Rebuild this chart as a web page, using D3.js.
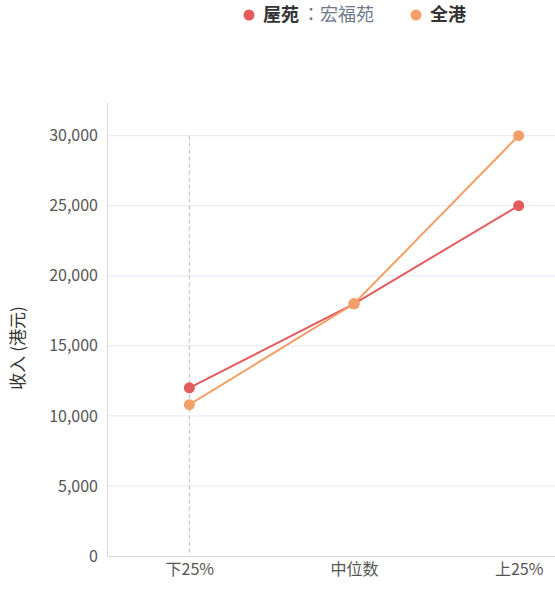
<!DOCTYPE html>
<html><head><meta charset="utf-8">
<script src="https://cdn.jsdelivr.net/npm/d3@7"></script>
<style>body{margin:0;background:#fff;} svg{display:block;font-family:"Noto Sans CJK SC","Noto Sans",sans-serif;}</style>
</head><body>
<svg id="c" width="555" height="596"></svg>
<script>
const categories = ["下25%", "中位数", "上25%"];
const estateValues = [12000, 18000, 25000];
const allHKValues = [10800, 18000, 30000];
const yTicks = [0, 5000, 10000, 15000, 20000, 25000, 30000];
const seriesNames = ["屋苑", "全港"];
const estateName = "宏福苑";

(function () {
const svg = d3.select("#c");
const mLeft = 107, mBottom = 556, mTop = 102, plotRight = 601;
const x = d3.scalePoint().domain(categories).range([mLeft, plotRight]).padding(0.5);
const y = d3.scaleLinear().domain([0, 32400]).range([mBottom, mTop]);

// grid
svg.append("g").selectAll("line").data(yTicks.filter(d => d > 0)).join("line")
  .attr("x1", mLeft).attr("x2", 555).attr("y1", d => y(d)).attr("y2", d => y(d))
  .attr("stroke", "#e8e8f2").attr("stroke-width", 1);

// y axis
const ya = svg.append("g").attr("transform", `translate(${mLeft},0)`)
  .call(d3.axisLeft(y).tickValues(yTicks).tickFormat(d3.format(",")).tickSize(0).tickPadding(9));
ya.select(".domain").attr("stroke", "#d6d6dc");
ya.selectAll("text").attr("font-size", 16).attr("fill", "#555").attr("font-family", "'Noto Sans CJK SC',sans-serif");

// x axis
const xa = svg.append("g").attr("transform", `translate(0,${mBottom})`)
  .call(d3.axisBottom(x).tickSize(0).tickPadding(8));
xa.select(".domain").attr("stroke", "#d6d6dc").attr("d", `M${mLeft},0.5H555`);
xa.selectAll("text").attr("font-size", 16).attr("fill", "#555").attr("font-family", "'Noto Sans CJK SC',sans-serif");

// pointer dashed line
svg.append("line").attr("x1", x(categories[0])).attr("x2", x(categories[0]))
  .attr("y1", y(30000)).attr("y2", mBottom)
  .attr("stroke", "#bbb").attr("stroke-dasharray", "4,3").attr("stroke-width", 1);

// y label
svg.append("text").attr("transform", `translate(24,${348}) rotate(-90)`)
  .attr("text-anchor", "middle").attr("font-size", 17).attr("fill", "#333").text("收入 (港元)");

const series = [
  {name: seriesNames[0], values: estateValues, color: "#e35b5d"},
  {name: seriesNames[1], values: allHKValues, color: "#f2a067"}
];
const line = d3.line().x((d, i) => x(categories[i])).y(d => y(d));
series.forEach(s => {
  svg.append("path").attr("d", line(s.values)).attr("fill", "none")
    .attr("stroke", s.color).attr("stroke-width", 2);
  svg.append("g").selectAll("circle").data(s.values).join("circle")
    .attr("cx", (d, i) => x(categories[i])).attr("cy", d => y(d)).attr("r", 5.5)
    .attr("fill", s.color);
});

// legend
const lg = svg.append("g");
lg.append("circle").attr("cx", 249).attr("cy", 15).attr("r", 5.5).attr("fill", series[0].color);
const t1 = lg.append("text").attr("x", 263).attr("y", 21).attr("font-size", 18);
t1.append("tspan").attr("font-weight", "bold").attr("fill", "#333").text(seriesNames[0]);
t1.append("tspan").attr("dx", 3).attr("fill", "#6e7a8c").attr("font-family", "'Noto Sans CJK TC',sans-serif").text("：" + estateName);
lg.append("circle").attr("cx", 416).attr("cy", 15).attr("r", 5.5).attr("fill", series[1].color);
lg.append("text").attr("x", 430).attr("y", 21).attr("font-size", 18)
  .attr("font-weight", "bold").attr("fill", "#333").text(seriesNames[1]);
})();
</script>
</body></html>
